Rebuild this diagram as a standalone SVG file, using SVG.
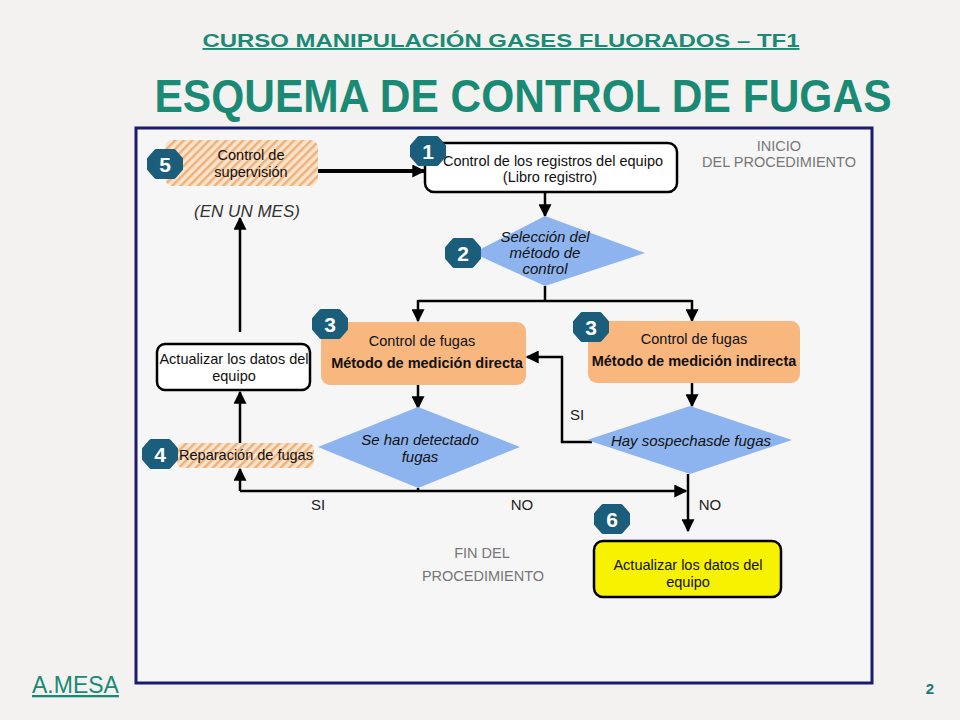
<svg xmlns="http://www.w3.org/2000/svg" width="960" height="720" viewBox="0 0 960 720">
<style>
text{font-family:"Liberation Sans",Arial,sans-serif;}
.t{font-size:14.5px;fill:#111;text-anchor:middle;}
.ti{font-size:15px;fill:#111;text-anchor:middle;font-style:italic;}
.tb{font-size:14.5px;fill:#111;text-anchor:middle;font-weight:bold;}
.g{font-size:14.5px;fill:#777;text-anchor:middle;}
.lbl{font-size:15px;fill:#222;text-anchor:middle;}
.bn{font-size:21px;fill:#fff;font-weight:bold;text-anchor:middle;}
.ln{fill:none;stroke:#000;stroke-width:2.5;}
.thick{fill:none;stroke:#000;stroke-width:4;}
.wbox{fill:#fff;stroke:#000;stroke-width:2.5;}
.obox{fill:#f7b77f;}
.dia{fill:#8db4ef;}
.hatch{fill:url(#hp);}
.badge{fill:#1b5e7b;stroke:#1b5e7b;stroke-width:4;stroke-linejoin:round;}
</style>
<defs>
<pattern id="hp" width="6" height="6" patternUnits="userSpaceOnUse" patternTransform="rotate(45)">
<rect width="6" height="6" fill="#fbe4cc"/>
<rect width="2.5" height="6" fill="#eeb17c"/>
</pattern>
<marker id="ahb" viewBox="0 0 10 10" refX="9" refY="5" markerWidth="13" markerHeight="13" markerUnits="userSpaceOnUse" orient="auto">
<path d="M0,0 L10,5 L0,10 z" fill="#000"/>
</marker>
<polygon id="bdg" class="badge" points="-9,-13 9,-13 16,-5 16,5 9,13 -9,13 -16,5 -16,-5"/>
</defs>
<rect width="960" height="720" fill="#f3f2f0"/>
<text x="501" y="47" font-size="19" font-weight="bold" fill="#1a8a75" text-anchor="middle" textLength="597" lengthAdjust="spacingAndGlyphs" text-decoration="underline">CURSO MANIPULACIÓN GASES FLUORADOS – TF1</text>
<text x="523" y="112" font-size="46" font-weight="bold" fill="#1a8a75" text-anchor="middle" textLength="737" lengthAdjust="spacingAndGlyphs">ESQUEMA DE CONTROL DE FUGAS</text>
<rect x="136" y="128" width="736" height="555" fill="#f6f6f6" stroke="#1a1a6e" stroke-width="3"/>
<text x="779" y="151" class="g">INICIO</text>
<text x="779" y="167" class="g">DEL PROCEDIMIENTO</text>
<text x="482" y="558" class="g">FIN DEL</text>
<text x="483" y="581" class="g">PROCEDIMIENTO</text>
<g id="connectors">
<line class="thick" x1="318" y1="171" x2="424" y2="171" marker-end="url(#ahb)"/>
<line class="ln" x1="545" y1="192" x2="545" y2="216" marker-end="url(#ahb)"/>
<polyline class="ln" points="545,286 545,301"/>
<polyline class="ln" points="418,301 692,301"/>
<line class="ln" x1="418" y1="300" x2="418" y2="321" marker-end="url(#ahb)"/>
<line class="ln" x1="692" y1="300" x2="692" y2="321" marker-end="url(#ahb)"/>
<line class="ln" x1="418" y1="385" x2="418" y2="408" marker-end="url(#ahb)"/>
<line class="ln" x1="692" y1="383" x2="692" y2="406" marker-end="url(#ahb)"/>
<polyline class="ln" points="592,442 562,442 562,357 527,357" marker-end="url(#ahb)"/>
<polyline class="ln" points="418,488 418,491"/>
<polyline class="ln" points="240,491 686,491" marker-end="url(#ahb)"/>
<line class="ln" x1="240" y1="491" x2="240" y2="469" marker-end="url(#ahb)"/>
<line class="ln" x1="688" y1="474" x2="688" y2="531" marker-end="url(#ahb)"/>
<line class="ln" x1="240" y1="443" x2="240" y2="392" marker-end="url(#ahb)"/>
<line class="ln" x1="240" y1="332" x2="240" y2="218" marker-end="url(#ahb)"/>
<text x="577" y="420" class="lbl">SI</text>
<text x="318" y="510" class="lbl">SI</text>
<text x="522" y="510" class="lbl">NO</text>
<text x="710" y="510" class="lbl">NO</text>
</g>
<g id="n5">
<rect class="hatch" x="165" y="140" width="153" height="46" rx="8"/>
<text x="251" y="160" class="t">Control de</text>
<text x="251" y="177" class="t">supervisión</text>
<use href="#bdg" x="165" y="164"/>
<text x="165" y="172" class="bn">5</text>
</g>
<text x="247" y="217" class="ti" style="font-size:17px;fill:#333">(EN UN MES)</text>
<g id="n1">
<rect class="wbox" x="425" y="143" width="252" height="49" rx="9" stroke-width="3"/>
<text x="553" y="166" class="t">Control de los registros del equipo</text>
<text x="550" y="182" class="t">(Libro registro)</text>
<use href="#bdg" x="428" y="151"/>
<text x="428" y="159" class="bn">1</text>
</g>
<g id="n2">
<polygon class="dia" points="545,216 645,253 545,286 473,253"/>
<text x="545" y="242" class="ti">Selección del</text>
<text x="545" y="258" class="ti">método de</text>
<text x="545" y="274" class="ti">control</text>
<use href="#bdg" x="463" y="253"/>
<text x="463" y="261" class="bn">2</text>
</g>
<g id="n3a">
<rect class="obox" x="321" y="322" width="205" height="63" rx="9"/>
<text x="422" y="346" class="t">Control de fugas</text>
<text x="427" y="368" class="tb">Método de medición directa</text>
<use href="#bdg" x="330" y="324"/>
<text x="330" y="332" class="bn">3</text>
</g>
<g id="n3b">
<rect class="obox" x="588" y="321" width="212" height="62" rx="9"/>
<text x="694" y="344" class="t">Control de fugas</text>
<text x="694" y="366" class="tb">Método de medición indirecta</text>
<use href="#bdg" x="591" y="327"/>
<text x="591" y="335" class="bn">3</text>
</g>
<g id="n7">
<polygon class="dia" points="418,407 520,447 418,488 318,447"/>
<text x="420" y="445" class="ti">Se han detectado</text>
<text x="420" y="462" class="ti">fugas</text>
</g>
<g id="n8">
<polygon class="dia" points="690,406 792,440 690,474 587,440"/>
<text x="691" y="446" class="ti">Hay sospechasde fugas</text>
</g>
<g id="n4">
<rect class="hatch" x="177" y="443" width="137" height="25" rx="6"/>
<text x="246" y="460" class="t">Reparación de fugas</text>
<use href="#bdg" x="160" y="454"/>
<text x="160" y="462" class="bn">4</text>
</g>
<g id="n9">
<rect class="wbox" x="157" y="344" width="153" height="46" rx="8"/>
<text x="234" y="364" class="t">Actualizar los datos del</text>
<text x="234" y="381" class="t">equipo</text>
</g>
<g id="n6">
<rect x="594" y="541" width="187" height="56" rx="9" fill="#f6f200" stroke="#000" stroke-width="2.5"/>
<text x="688" y="570" class="t">Actualizar los datos del</text>
<text x="688" y="587" class="t">equipo</text>
<use href="#bdg" x="612" y="519"/>
<text x="612" y="527" class="bn">6</text>
</g>
<text x="32" y="693" font-size="23" fill="#1a8a75" text-decoration="underline">A.MESA</text>
<text x="930" y="694" font-size="15" font-weight="bold" fill="#1a7a70" text-anchor="middle">2</text>
</svg>
